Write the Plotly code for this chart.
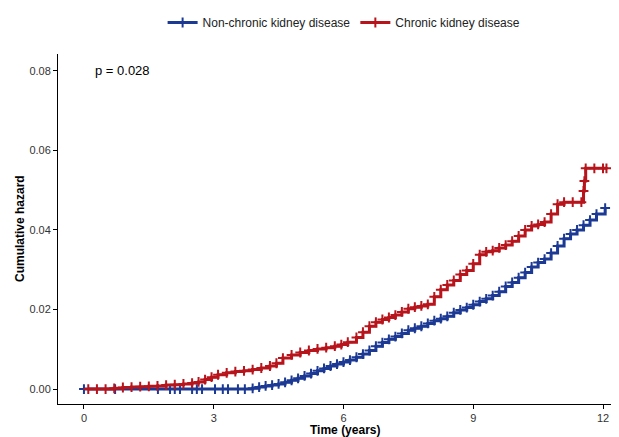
import plotly.graph_objects as go

# Chronic kidney disease (red)
ckd_time = [0.1, 0.3, 0.5, 0.7, 0.9, 1.1, 1.3, 1.5, 1.7, 1.9, 2.1, 2.3, 2.5, 2.65, 2.8,
            2.95, 3.1, 3.3, 3.5, 3.7, 3.9, 4.1, 4.3, 4.45, 4.6, 4.8, 5.0, 5.2, 5.4, 5.6,
            5.8, 5.95, 6.1, 6.3, 6.45, 6.6, 6.75, 6.9, 7.05, 7.2, 7.35, 7.5, 7.65, 7.8,
            7.95, 8.1, 8.25, 8.4, 8.55, 8.7, 8.85, 9.0, 9.15, 9.3, 9.45, 9.6, 9.75, 9.9,
            10.05, 10.2, 10.35, 10.5, 10.65, 10.8, 10.95, 11.1, 11.3, 11.5, 11.55, 11.57,
            11.6, 11.8, 12.0, 12.08]
ckd_haz = [0.0, 0.0, 0.0, 0.0002, 0.0004, 0.0005, 0.0006, 0.0007, 0.0008, 0.0010,
           0.0011, 0.0013, 0.0015, 0.0018, 0.0024, 0.0030, 0.0036, 0.0041, 0.0044,
           0.0046, 0.0049, 0.0053, 0.0058, 0.0065, 0.0078, 0.0086, 0.0092, 0.0097,
           0.0101, 0.0104, 0.0108, 0.0112, 0.0118, 0.0130, 0.0143, 0.0158, 0.0168,
           0.0175, 0.0180, 0.0186, 0.0194, 0.0202, 0.0206, 0.0209, 0.0213, 0.0232,
           0.0250, 0.0262, 0.0273, 0.0288, 0.0298, 0.0315, 0.0338, 0.0345, 0.0348,
           0.0355, 0.0362, 0.0372, 0.0385, 0.0400, 0.0410, 0.0414, 0.0420, 0.0440,
           0.0465, 0.0470, 0.0470, 0.0470, 0.0498, 0.0523, 0.0555, 0.0555, 0.0555,
           0.0555]

# Non-chronic kidney disease (blue)
non_time = [0.0, 0.72, 1.71, 1.99, 2.1, 2.22, 2.5, 2.61, 2.73, 3.03, 3.21, 3.33, 3.56,
            3.72, 3.9, 4.05, 4.2, 4.35, 4.5, 4.65, 4.8, 4.95, 5.1, 5.25, 5.4, 5.55, 5.7,
            5.85, 6.0, 6.15, 6.3, 6.45, 6.6, 6.75, 6.9, 7.05, 7.2, 7.35, 7.5, 7.65, 7.8,
            7.95, 8.1, 8.25, 8.4, 8.55, 8.7, 8.85, 9.0, 9.15, 9.3, 9.45, 9.6, 9.75, 9.9,
            10.05, 10.2, 10.35, 10.5, 10.65, 10.8, 10.95, 11.1, 11.25, 11.4, 11.55, 11.7,
            11.85, 12.05]
non_haz = [0.0, 0.0, 0.0, 0.0, 0.0, 0.0, 0.0, 0.0, 0.0, 0.0, 0.0, 0.0, 0.0, 0.0,
           0.0002, 0.0005, 0.0008, 0.0010, 0.0013, 0.0017, 0.0022, 0.0027, 0.0033,
           0.0039, 0.0046, 0.0052, 0.0058, 0.0063, 0.0068, 0.0073, 0.0080, 0.0088,
           0.0097, 0.0108, 0.0117, 0.0125, 0.0132, 0.0140, 0.0148, 0.0153, 0.0158,
           0.0165, 0.0172, 0.0177, 0.0183, 0.0192, 0.0199, 0.0205, 0.0212, 0.0220,
           0.0227, 0.0235, 0.0245, 0.0258, 0.0268, 0.0280, 0.0293, 0.0307, 0.0318,
           0.0327, 0.0342, 0.0360, 0.0378, 0.0390, 0.0400, 0.0412, 0.0425, 0.0440,
           0.0455]

x_ticks = [0, 3, 6, 9, 12]
y_ticks = [0.00, 0.02, 0.04, 0.06, 0.08]

BLUE = "#1c3a94"
RED = "#b8141c"

fig = go.Figure()
for name, t, h, col in [("Non-chronic kidney disease", non_time, non_haz, BLUE),
                        ("Chronic kidney disease", ckd_time, ckd_haz, RED)]:
    fig.add_trace(go.Scatter(
        x=t, y=h, name=name, mode="lines+markers",
        line=dict(color=col, width=3, shape="hv"),
        marker=dict(symbol="cross-thin", size=7, line=dict(color=col, width=2)),
    ))

font = "Liberation Sans, Arial, sans-serif"
fig.update_layout(
    width=611, height=429,
    margin=dict(l=50, r=0, t=44, b=33),
    plot_bgcolor="white", paper_bgcolor="white",
    font=dict(family=font, size=11, color="#333333"),
    showlegend=True,
    legend=dict(orientation="h", x=0.51, xanchor="center", y=1.09, yanchor="middle",
                font=dict(size=12, color="#222222"), itemwidth=30),
    xaxis=dict(range=[-0.6, 12.37], tickvals=x_ticks, ticks="outside", ticklen=4,
               tickcolor="black", showline=True, linecolor="black", linewidth=1,
               showgrid=False, zeroline=False, automargin=False),
    yaxis=dict(range=[-0.00375, 0.08425], tickvals=y_ticks, tickformat=".2f",
               ticks="outside", ticklen=4, tickcolor="black", showline=True,
               linecolor="black", linewidth=1, showgrid=False, zeroline=False,
               automargin=False),
    annotations=[
        dict(x=0.2, y=0.08, xref="x", yref="y", text="p = 0.028",
             showarrow=False, xanchor="left", yanchor="middle",
             font=dict(size=13, color="black")),
        dict(x=0.512, y=0, xref="paper", yref="paper", text="<b>Time (years)</b>",
             showarrow=False, xanchor="center", yanchor="top", yshift=-17,
             font=dict(size=12, color="black")),
        dict(x=0, y=0.5, xref="paper", yref="paper", text="<b>Cumulative hazard</b>",
             showarrow=False, xanchor="center", yanchor="middle", xshift=-38,
             textangle=-90, font=dict(size=12, color="black")),
    ],
)

fig.write_html("out.html")
